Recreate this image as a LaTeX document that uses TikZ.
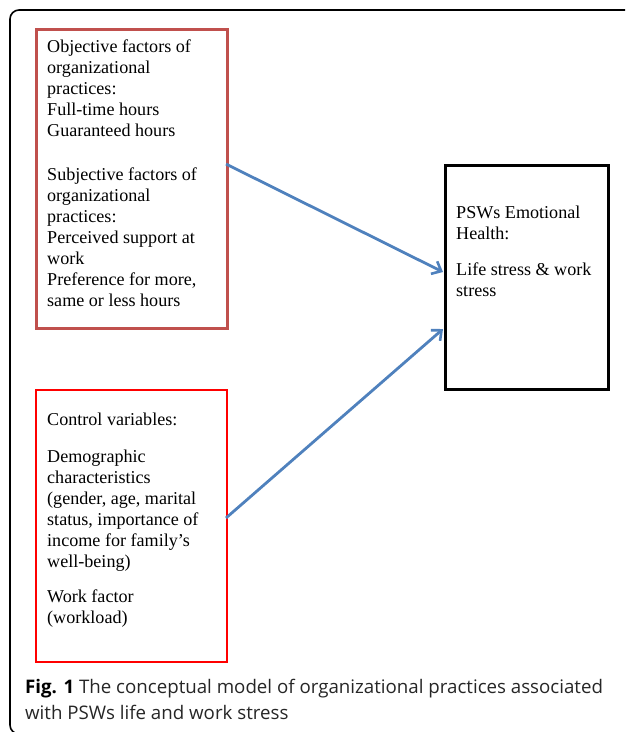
\documentclass[tikz,border=0pt]{standalone}
\usepackage{fontspec}
\setmainfont{Liberation Serif}
\newfontfamily\capfont{Open Sans}
\usetikzlibrary{arrows.meta}
\definecolor{boxred}{RGB}{192,80,77}
\definecolor{brightred}{RGB}{255,0,0}
\definecolor{arrowblue}{RGB}{79,129,189}
\tikzset{
  txt/.style={anchor=north west, inner sep=0pt, align=left, font=\fontsize{18.1}{21}\selectfont},
  link/.style={draw=arrowblue, line width=2.8pt, -{Straight Barb[length=8pt,width=14pt,line width=2.6pt]}},
}
\begin{document}
\begin{tikzpicture}[x=1pt,y=-1pt]
\useasboundingbox (0,0) rectangle (625,732);
\begin{scope}
\clip (0,0) rectangle (625,732);
\draw[line width=1.6pt, rounded corners=9pt] (10,10) rectangle (660,734);
\end{scope}
% boxes
\node[draw=boxred, line width=3pt, minimum width=191pt, minimum height=299pt, anchor=north west, inner sep=0pt] (obj) at (35,28) {};
\node[draw=brightred, line width=1.5pt, minimum width=191pt, minimum height=272pt, anchor=north west, inner sep=0pt] (ctrl) at (35,389) {};
\node[draw=black, line width=3pt, minimum width=163pt, minimum height=224pt, anchor=north west, inner sep=0pt] (psw) at (444,164) {};
% texts
\node[txt] (objtxt) at (47,40) {Objective factors of\\organizational\\practices:\\Full-time hours\\Guaranteed hours\\[23pt]Subjective factors of\\organizational\\practices:\\Perceived support at\\work\\Preference for more,\\same or less hours};
\node[txt] (ctrltxt) at (47,413) {Control variables:\\[16pt]Demographic\\characteristics\\(gender, age, marital\\status, importance of\\income for family’s\\well-being)\\[14pt]Work factor\\(workload)};
\node[txt] (pswtxt) at (456,206) {PSWs Emotional\\Health:\\[15pt]Life stress \& work\\stress};
% arrows
\coordinate (a1s) at (226,164);
\coordinate (a1e) at (443,272);
\coordinate (a2s) at (226,518);
\coordinate (a2e) at (443,329);
\draw[link] (a1s) -- (a1e);
\draw[link] (a2s) -- (a2e);
% caption
\node[anchor=base west, inner sep=0pt, align=left, font=\capfont\fontsize{18.7}{25.5}\selectfont, text=black!85] (cap) at (25,719) {{\bfseries\color{black}Fig. 1} The conceptual model of organizational practices associated\\with PSWs life and work stress};
\end{tikzpicture}
\end{document}
